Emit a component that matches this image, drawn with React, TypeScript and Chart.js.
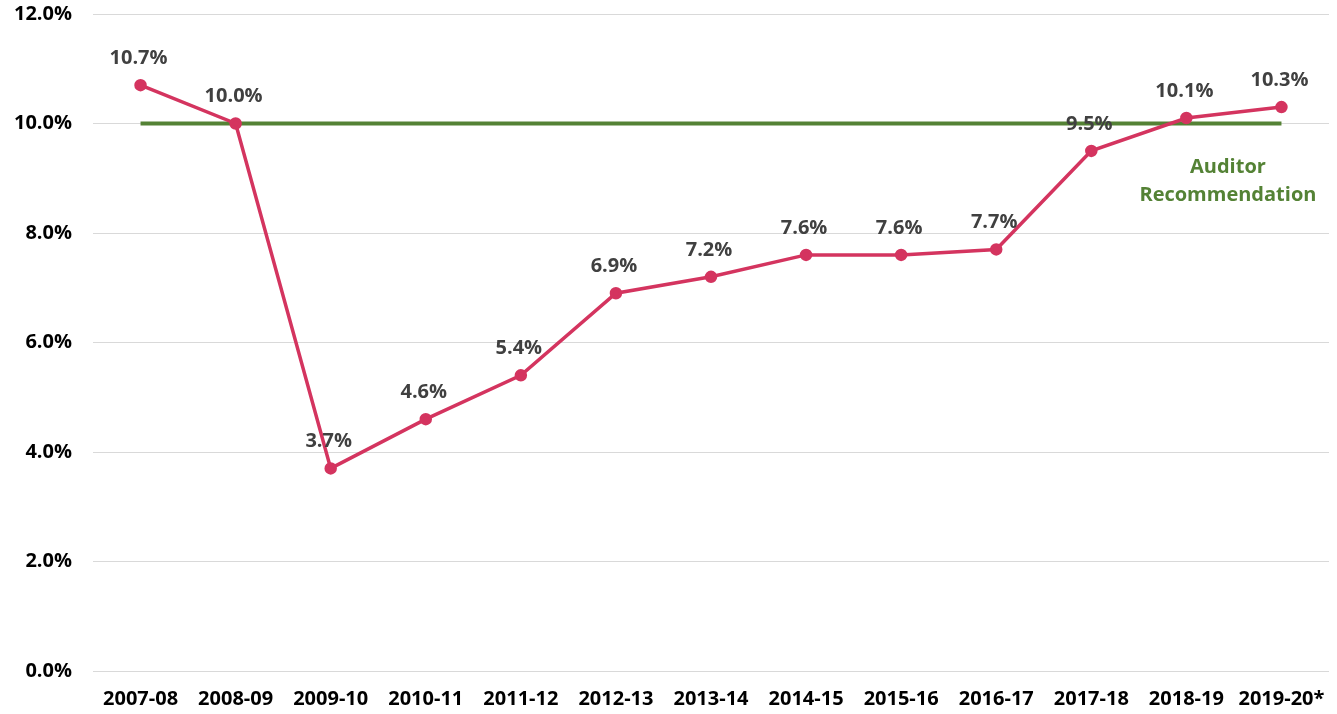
import React, { useEffect, useRef } from "react";
import { Chart, registerables } from "chart.js";

Chart.register(...registerables);

const categories = ["2007-08", "2008-09", "2009-10", "2010-11", "2011-12", "2012-13", "2013-14", "2014-15", "2015-16", "2016-17", "2017-18", "2018-19", "2019-20*"];
const reserveValues = [10.7, 10.0, 3.7, 4.6, 5.4, 6.9, 7.2, 7.6, 7.6, 7.7, 9.5, 10.1, 10.3];
const recommendationValues = [10, 10, 10, 10, 10, 10, 10, 10, 10, 10, 10, 10, 10];
const annotationLines = ["Auditor", "Recommendation"];

const FONT = "'Open Sans', Lato, sans-serif";

const labelPlugin = {
  id: "labels",
  afterDatasetsDraw(chart: any) {
    const ctx = chart.ctx;
    const meta = chart.getDatasetMeta(1);
    ctx.save();
    ctx.font = `bold 20px ${FONT}`;
    ctx.fillStyle = "#404040";
    ctx.textAlign = "center";
    ctx.textBaseline = "middle";
    meta.data.forEach((pt: any, i: number) => {
      ctx.fillText(reserveValues[i].toFixed(1) + "%", pt.x - 2, pt.y - 27);
    });
    const x = chart.scales.x;
    const y = chart.scales.y;
    const ax = (x.getPixelForValue(11) + x.getPixelForValue(12)) / 2 - 6;
    const ay = y.getPixelForValue(9.2);
    ctx.fillStyle = "#548235";
    ctx.font = `bold 20px ${FONT}`;
    ctx.fillText(annotationLines[0], ax, ay);
    ctx.fillText(annotationLines[1], ax, ay + 28);
    ctx.restore();
  },
};

export default function App() {
  const ref = useRef<HTMLCanvasElement>(null);
  useEffect(() => {
    document.body.style.margin = "0";
    const chart = new Chart(ref.current!, {
      type: "line",
      data: {
        labels: categories,
        datasets: [
          {
            data: recommendationValues,
            borderColor: "#548235",
            borderWidth: 4,
            pointRadius: 0,
            order: 2,
          },
          {
            data: reserveValues,
            borderColor: "#d4345f",
            backgroundColor: "#d4345f",
            borderWidth: 3.5,
            pointRadius: 4.5,
            order: 1,
          },
        ],
      },
      options: {
        animation: false,
        responsive: false,
        layout: { padding: { top: 14, right: 3, left: 0, bottom: 0 } },
        plugins: { legend: { display: false }, tooltip: { enabled: false } },
        scales: {
          x: {
            offset: true,
            grid: { display: false },
            border: { display: false },
            ticks: { color: "#000", font: { family: FONT, weight: "bold", size: 20 }, padding: 8, maxRotation: 0 },
            afterFit: (s: any) => { s.height = 43; s.paddingLeft = 0; s.paddingRight = 0; },
          },
          y: {
            min: 0,
            max: 12,
            grid: { color: "#d9d9d9", lineWidth: 1, drawTicks: false },
            border: { display: false },
            ticks: {
              stepSize: 2,
              color: "#000",
              padding: 21,
              font: { family: FONT, weight: "bold", size: 20 },
              callback: (v: any) => Number(v).toFixed(1) + "%",
            },
            afterFit: (s: any) => { s.width = 93; s.paddingTop = 0; s.paddingBottom = 0; },
          },
        },
      },
      plugins: [labelPlugin],
    });
    return () => chart.destroy();
  }, []);
  return (
    <div style={{ position: "absolute", left: 0, top: 0, width: 1337, height: 714, background: "#fff" }}>
      <canvas ref={ref} width={1337} height={714} />
    </div>
  );
}
